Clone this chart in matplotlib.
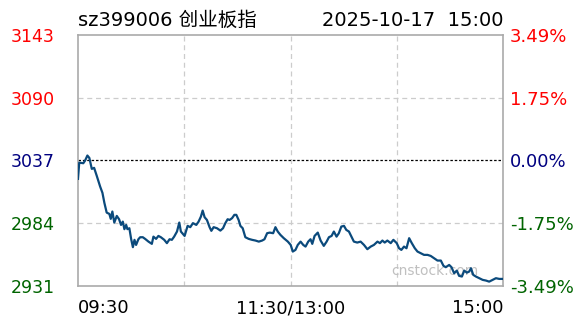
import matplotlib
matplotlib.use("Agg")
import matplotlib.pyplot as plt

# ---- data ----
title_left = "sz399006 创业板指"
title_right = "2025-10-17  15:00"
prev_close = 3036.9
left_labels = ["3143", "3090", "3037", "2984", "2931"]
right_labels = ["3.49%", "1.75%", "0.00%", "-1.75%", "-3.49%"]
pct_levels = [3.49, 1.75, 0.0, -1.75, -3.49]
time_labels = ["09:30", "11:30/13:00", "15:00"]
time_ticks = [0, 120, 240]

minutes = [0, 0.7, 1.1, 3.0, 4.0, 5.3, 6.4, 7.8, 9.1, 10.6, 12.5, 13.8, 14.9, 16.2, 17.7,
           18.5, 19.4, 20.5, 21.9, 23.2, 24.3, 25.3, 26.2, 27.2, 27.9, 29.0, 30.0, 31.0,
           31.9, 32.8, 34.1, 35.1, 36.6, 37.9, 39.8, 41.7, 42.6, 44.1, 45.4, 46.8, 48.7,
           50.2, 51.7, 53.0, 54.3, 55.9, 57.2, 58.1, 60.2, 61.9, 63.4, 64.9, 66.8, 68.1,
           69.4, 70.4, 71.5, 72.8, 74.3, 75.3, 76.6, 78.5, 80.4, 81.9, 83.2, 84.5, 85.6,
           87.0, 88.3, 89.4, 90.7, 91.7, 93.0, 94.5, 96.4, 98.3, 100.2, 102.1, 104.0,
           105.3, 106.8, 108.3, 110.2, 111.5, 112.8, 114.3, 116.2, 118.5, 120.1, 121.3,
           122.8, 124.1, 125.7, 127.2, 128.5, 130.0, 131.3, 132.3, 133.6, 135.4, 137.0,
           138.8, 140.4, 141.7, 143.2, 144.5, 146.0, 147.3, 148.7, 150.2, 151.5, 153.0,
           154.4, 155.8, 157.7, 159.6, 161.5, 163.4, 165.3, 167.1, 169.1, 170.5, 171.9,
           173.2, 174.7, 176.6, 178.1, 180.0, 181.3, 182.6, 184.1, 185.5, 187.0, 188.5,
           190.2, 191.7, 193.6, 195.4, 197.4, 199.2, 201.1, 203.0, 204.9, 206.4, 207.7,
           209.6, 210.9, 212.4, 213.9, 215.2, 216.8, 218.1, 219.6, 220.9, 221.9, 223.2,
           224.7, 226.6, 228.5, 230.4, 232.2, 234.2, 236.0, 237.9, 240.0]

prices = [3021.4, 3035.1, 3035.0, 3034.6, 3036.8, 3041.1, 3039.1, 3029.8, 3030.7, 3023.9,
          3014.9, 3009.6, 3001.1, 2992.9, 2991.8, 2987.6, 2993.8, 2984.5, 2990.1, 2987.3,
          2982.5, 2985.3, 2978.9, 2982.5, 2978.9, 2979.7, 2970.7, 2963.7, 2969.9, 2965.6,
          2970.4, 2972.1, 2972.1, 2970.7, 2968.4, 2966.5, 2972.6, 2970.7, 2973.2, 2972.1,
          2969.9, 2967.1, 2970.4, 2969.9, 2972.6, 2976.9, 2984.5, 2976.9, 2973.2, 2981.7,
          2980.6, 2984.0, 2982.5, 2985.3, 2989.5, 2994.6, 2989.0, 2986.7, 2980.6, 2977.5,
          2980.6, 2979.7, 2977.7, 2979.7, 2984.0, 2987.3, 2986.7, 2988.2, 2991.0, 2991.0,
          2986.7, 2981.7, 2979.7, 2972.1, 2970.7, 2969.9, 2969.3, 2968.4, 2969.3, 2970.4,
          2975.5, 2976.0, 2975.5, 2980.6, 2976.9, 2974.1, 2971.3, 2968.4, 2965.6, 2960.0,
          2961.4, 2965.6, 2968.4, 2965.6, 2964.2, 2968.4, 2970.4, 2966.5, 2973.2, 2976.0,
          2969.3, 2964.8, 2968.4, 2972.1, 2973.2, 2976.9, 2972.6, 2975.5, 2981.1, 2981.7,
          2978.3, 2976.9, 2972.6, 2968.4, 2967.6, 2968.4, 2965.6, 2962.0, 2964.2, 2965.6,
          2968.4, 2967.1, 2969.3, 2967.6, 2969.3, 2967.1, 2969.9, 2967.1, 2962.8, 2961.4,
          2964.2, 2962.8, 2971.3, 2967.1, 2962.8, 2960.0, 2958.6, 2957.2, 2957.2, 2956.3,
          2954.4, 2952.4, 2952.4, 2947.9, 2946.8, 2948.7, 2946.8, 2941.7, 2943.9, 2939.5,
          2938.9, 2943.9, 2942.2, 2943.1, 2945.9, 2940.3, 2938.9, 2937.5, 2936.1, 2935.5,
          2934.6, 2936.1, 2937.5, 2936.9, 2936.9]

assert len(minutes) == len(prices), (len(minutes), len(prices))

# ---- styles ----
RED = "#ff0000"
NAVY = "#000080"
GREEN = "#006400"
LINE = "#0b4a7c"
label_colors = [RED, RED, NAVY, GREEN, GREEN]

plt.rcParams['font.family'] = ['DejaVu Sans', 'Noto Sans CJK SC']

fig = plt.figure(figsize=(5.88, 3.24), dpi=100)
W, H = 588, 324
l, r, t, b = 78, 503, 35, 286
ax = fig.add_axes([l / W, 1 - b / H, (r - l) / W, (b - t) / H])

levels = [prev_close * (1 + p / 100) for p in pct_levels]
ax.set_xlim(0, 240)
ax.set_ylim(levels[-1], levels[0])

# grid
for x in [60, 120, 180]:
    ax.axvline(x, color="#cccccc", lw=0.9, ls=(0, (4, 3)), zorder=1)
for y in [levels[1], levels[3]]:
    ax.axhline(y, color="#cccccc", lw=0.9, ls=(0, (4, 3)), zorder=1)
ax.axhline(prev_close, color="black", lw=0.9, ls=(0, (2, 1.5)), zorder=2)

ax.plot(minutes, prices, color=LINE, lw=1.6, zorder=3, solid_joinstyle="round")

for s in ax.spines.values():
    s.set_color("#aaaaaa")
    s.set_linewidth(1.2)

ax.set_xticks([])
ax.set_yticks(levels)
ax.set_yticklabels(left_labels, fontsize=12.5)
for lab, c in zip(ax.get_yticklabels(), label_colors):
    lab.set_color(c)
ax.tick_params(axis="y", length=0, pad=17)

ax2 = ax.twinx()
ax2.set_ylim(ax.get_ylim())
ax2.set_yticks(levels)
ax2.set_yticklabels(right_labels, fontsize=13)
for lab, c in zip(ax2.get_yticklabels(), label_colors):
    lab.set_color(c)
ax2.tick_params(axis="y", length=0, pad=5)
for s in ax2.spines.values():
    s.set_visible(False)

# time labels
has = ["left", "center", "right"]
for tk, lab, ha in zip(time_ticks, time_labels, has):
    ax.annotate(lab, xy=(tk, 0), xycoords=("data", "axes fraction"),
                xytext=(0, -16), textcoords="offset points",
                ha=ha, va="center", fontsize=13, color="black")

# titles
fig.text(l / W, 1 - 20 / H, title_left, ha="left", va="center", fontsize=14, color="black")
fig.text(r / W, 1 - 20 / H, title_right, ha="right", va="center", fontsize=14, color="black")

# watermark
ax.text(0.84, 0.06, "cnstock.com", transform=ax.transAxes, ha="center", va="center",
        fontsize=10, color="#c0c0c0", zorder=2.5)

fig.savefig("out.png", dpi=100)
